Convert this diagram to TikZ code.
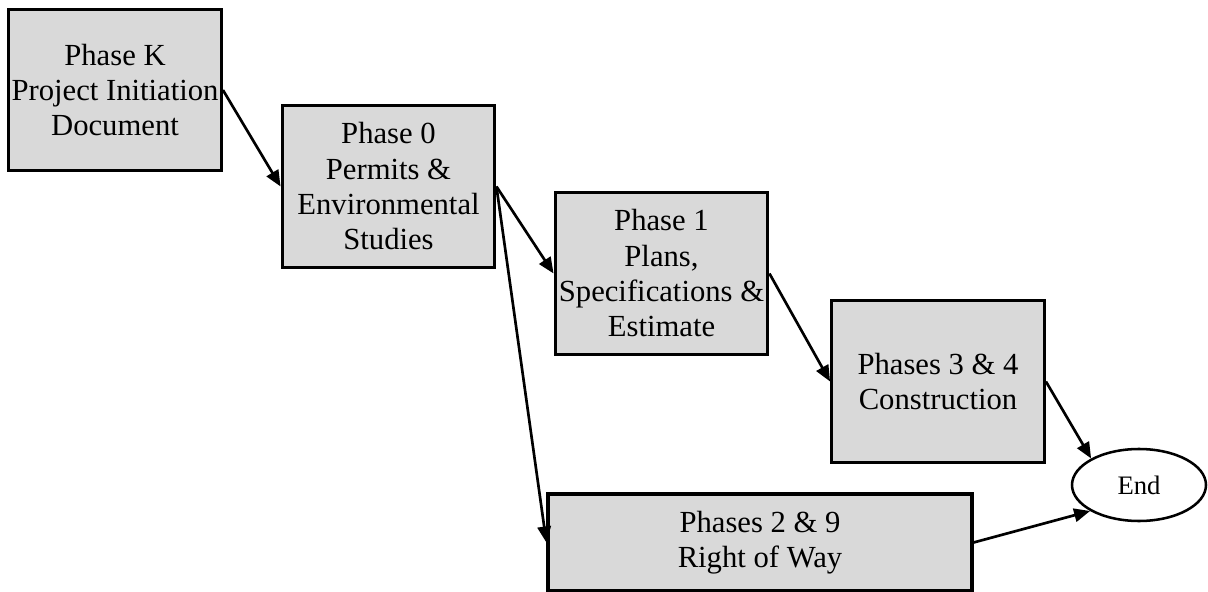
\documentclass[tikz,border=0pt]{standalone}
\usepackage{fontspec}
\setmainfont{Liberation Serif}
\usetikzlibrary{arrows.meta,shapes.geometric}
\definecolor{boxgray}{HTML}{D9D9D9}
\begin{document}
\begin{tikzpicture}[x=0.75pt,y=-0.75pt,
  phase/.style={draw=black,line width=2.4pt,fill=boxgray,align=center,inner sep=0pt,
    minimum width=159.5pt,minimum height=121pt,font=\fontsize{23}{26.5}\selectfont},
  endnode/.style={draw=black,line width=1.9pt,fill=white,ellipse,inner sep=0pt,
    minimum width=100.5pt,minimum height=54pt,font=\fontsize{20}{24}\selectfont},
  link/.style={line width=2pt,-{Triangle[length=12pt,width=10pt]}},
]
\useasboundingbox (0,0) rectangle (1208,592);
\node[phase] (K) at (115,90) {Phase K\\Project Initiation\\Document};
\node[phase] (P0) at (388.5,186.5) {Phase 0\\Permits \&\\Environmental\\Studies};
\node[phase] (P1) at (661.5,273.5) {Phase 1\\Plans,\\Specifications \&\\Estimate};
\node[phase] (P34) at (938,381.5) {Phases 3 \& 4\\Construction};
\node[phase,minimum width=318pt,minimum height=72.75pt] (P29) at (760,542.5) {Phases 2 \& 9\\Right of Way};
\node[endnode] (E) at (1139,485) {End};
\draw[link] (K.east) -- (P0.west);
\draw[link] (P0.east) -- (P1.west);
\draw[link] (P0.east) -- (P29.west);
\draw[link] (P1.east) -- (P34.west);
\draw[link] (P34.east) -- (E.151);
\draw[link] (P29.east) -- (E.208);
\end{tikzpicture}
\end{document}
